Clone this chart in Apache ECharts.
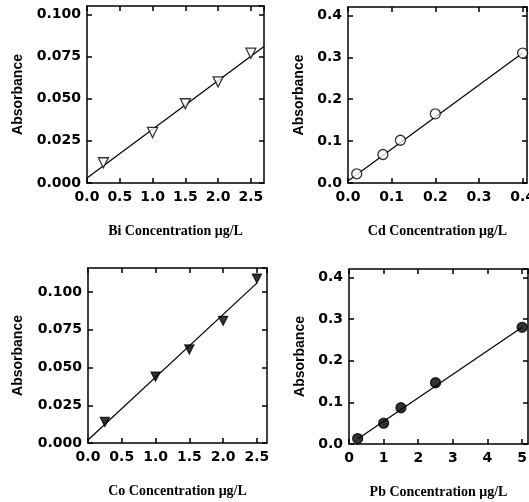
<!DOCTYPE html>
<html>
<head>
<meta charset="utf-8">
<script src="https://cdn.jsdelivr.net/npm/echarts@6/dist/echarts.min.js"></script>
<style>
  html, body { margin: 0; padding: 0; background: #fff; }
  #chart { width: 529px; height: 502px; }
</style>
</head>
<body>
<div id="chart"></div>
<script>
// calibration data
var biConc = [0.25, 1.0, 1.5, 2.0, 2.5];
var biAbs = [0.012, 0.030, 0.047, 0.060, 0.077];
var biFitX = [0, 2.7];
var biFitY = [0.003, 0.081];

var cdConc = [0.02, 0.08, 0.12, 0.20, 0.40];
var cdAbs = [0.022, 0.068, 0.102, 0.165, 0.310];
var cdFitX = [0, 0.4];
var cdFitY = [0.005, 0.310];

var coConc = [0.25, 1.0, 1.5, 2.0, 2.5];
var coAbs = [0.014, 0.044, 0.062, 0.081, 0.109];
var coFitX = [0, 2.5];
var coFitY = [0.002, 0.106];

var pbConc = [0.25, 1, 1.5, 2.5, 5];
var pbAbs = [0.013, 0.050, 0.087, 0.147, 0.280];
var pbFitX = [0.25, 5];
var pbFitY = [0.012, 0.280];

var chart = echarts.init(document.getElementById('chart'));

var tickFont = { fontFamily: 'DejaVu Sans', fontWeight: 'bold', fontSize: 14, color: '#000' };

function pairs(xs, ys) {
    var out = [];
    for (var i = 0; i < xs.length; i++) out.push([xs[i], ys[i]]);
    return out;
}

// one panel = one grid, a bottom/left axis pair with labels and a top/right pair for the mirrored ticks
var panels = [
    { grid: { left: 87, top: 6, width: 177, height: 177 },
      x: { min: 0, max: 2.7, interval: 0.5, dec: 1, name: 'Bi Concentration μg/L' },
      y: { min: 0, max: 0.105, interval: 0.025, dec: 3, gap: 62 },
      xs: biConc, ys: biAbs, fx: biFitX, fy: biFitY,
      symbol: 'triangle', filled: false },
    { grid: { left: 348, top: 7, width: 179, height: 176 },
      x: { min: 0, max: 0.41, interval: 0.1, dec: 1, name: 'Cd Concentration μg/L' },
      y: { min: 0, max: 0.42, interval: 0.1, dec: 1, gap: 42 },
      xs: cdConc, ys: cdAbs, fx: cdFitX, fy: cdFitY,
      symbol: 'circle', filled: false },
    { grid: { left: 88, top: 268, width: 179, height: 175 },
      x: { min: 0, max: 2.65, interval: 0.5, dec: 1, name: 'Co Concentration μg/L' },
      y: { min: 0, max: 0.116, interval: 0.025, dec: 3, gap: 63 },
      xs: coConc, ys: coAbs, fx: coFitX, fy: coFitY,
      symbol: 'triangle', filled: true },
    { grid: { left: 349, top: 269, width: 179, height: 175 },
      x: { min: 0, max: 5.17, interval: 1, dec: 0, name: 'Pb Concentration μg/L' },
      y: { min: 0, max: 0.42, interval: 0.1, dec: 1, gap: 42 },
      xs: pbConc, ys: pbAbs, fx: pbFitX, fy: pbFitY,
      symbol: 'circle', filled: true }
];

var grids = [], xAxes = [], yAxes = [], series = [];

panels.forEach(function (p, i) {
    grids.push(Object.assign({ outerBoundsMode: 'none', containLabel: false }, p.grid));
    var line = { show: true, onZero: false, lineStyle: { color: '#000', width: 1.5 } };
    var tick = { show: true, inside: true, length: 5, lineStyle: { color: '#000', width: 1.5 } };
    xAxes.push({
        gridIndex: i, type: 'value', position: 'bottom',
        min: p.x.min, max: p.x.max, interval: p.x.interval,
        axisLine: line, axisTick: tick, splitLine: { show: false },
        axisLabel: Object.assign({ margin: 7, showMaxLabel: false,
            formatter: function (v) { return v.toFixed(p.x.dec); } }, tickFont),
        name: p.x.name, nameLocation: 'middle', nameGap: 41,
        nameTextStyle: { fontFamily: 'Liberation Serif', fontWeight: 'bold', fontSize: 14, color: '#000' }
    });
    xAxes.push({
        gridIndex: i, type: 'value', position: 'top',
        min: p.x.min, max: p.x.max, interval: p.x.interval,
        axisLine: line, axisTick: tick, splitLine: { show: false }, axisLabel: { show: false }
    });
    yAxes.push({
        gridIndex: i, type: 'value', position: 'left',
        min: p.y.min, max: p.y.max, interval: p.y.interval,
        axisLine: line, axisTick: tick, splitLine: { show: false },
        axisLabel: Object.assign({ margin: 6, showMaxLabel: false,
            formatter: function (v) { return v.toFixed(p.y.dec); } }, tickFont),
        name: 'Absorbance', nameLocation: 'middle', nameRotate: 90, nameGap: p.y.gap,
        nameTextStyle: { fontFamily: 'Liberation Sans', fontWeight: 'bold', fontSize: 14, color: '#000' }
    });
    yAxes.push({
        gridIndex: i, type: 'value', position: 'right',
        min: p.y.min, max: p.y.max, interval: p.y.interval,
        axisLine: line, axisTick: tick, splitLine: { show: false }, axisLabel: { show: false }
    });

    // fitted line
    series.push({
        type: 'line', xAxisIndex: 2 * i, yAxisIndex: 2 * i,
        data: pairs(p.fx, p.fy), symbol: 'none', silent: true,
        lineStyle: { color: '#000', width: 1.2 }, z: 2
    });
    // measured points
    series.push({
        type: 'scatter', xAxisIndex: 2 * i, yAxisIndex: 2 * i,
        data: pairs(p.xs, p.ys), symbol: p.symbol,
        symbolSize: p.filled && p.symbol === 'triangle' ? 9 : 10,
        symbolRotate: p.symbol === 'triangle' ? 180 : 0,
        itemStyle: { color: p.filled ? '#000' : '#fff', borderColor: '#000', borderWidth: 1.3 },
        z: 3
    });
});

chart.setOption({
    animation: false,
    backgroundColor: '#fff',
    grid: grids,
    xAxis: xAxes,
    yAxis: yAxes,
    series: series
});
</script>
</body>
</html>
